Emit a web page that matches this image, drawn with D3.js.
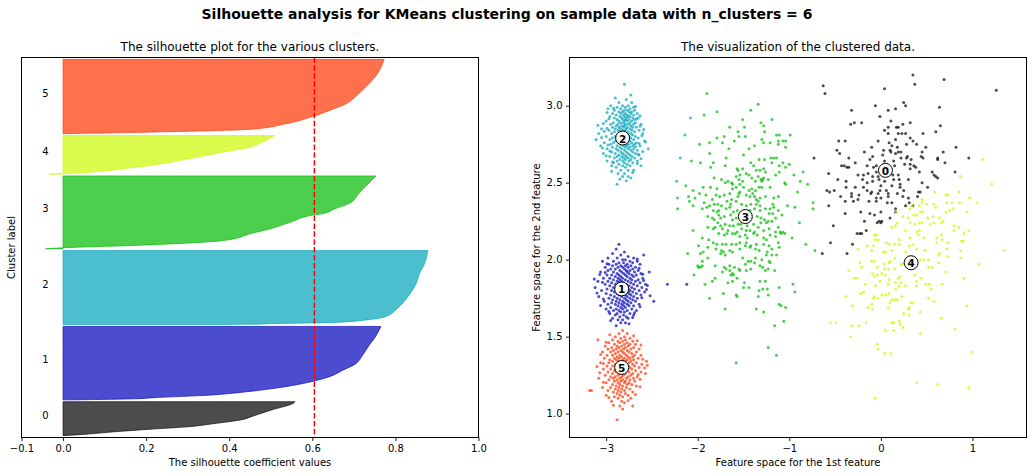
<!DOCTYPE html>
<html><head><meta charset="utf-8">
<script src="https://cdn.jsdelivr.net/npm/d3@7"></script>
<style>body{margin:0;background:#fff;} svg{display:block;}</style>
</head><body>
<script>
// ---------------- DATA ----------------
const suptitle = "Silhouette analysis for KMeans clustering on sample data with n_clusters = 6";
const leftTitle = "The silhouette plot for the various clusters.";
const rightTitle = "The visualization of the clustered data.";
const clusterIds = [0, 1, 2, 3, 4, 5];
const clusterSizes = [185, 400, 403, 397, 210, 405];
const silhouetteAvg = 0.605;
const clusterColors = ["#000000", "#0000bb", "#00a4bb", "#00bb00", "#ccf900", "#ff3300"];
const silXTicks = [-0.1, 0, 0.2, 0.4, 0.6, 0.8, 1.0];
const featXTicks = [-3, -2, -1, 0, 1];
const featYTicks = [1.0, 1.5, 2.0, 2.5, 3.0];
const featXDomain = [-3.40, 1.59];
const featYDomain = [0.845, 3.313];

// sorted silhouette values: [rank fraction within cluster, value]
const profile0 = [[0,0.0],[0.03,0.04],[0.12,0.13],[0.19,0.21],[0.26,0.30],[0.35,0.36],[0.47,0.43],[0.56,0.453],[0.75,0.50],[0.96,0.555],[1,0.558]];
const profile1 = [[0,0.02],[0.014,0.17],[0.03,0.22],[0.058,0.33],[0.115,0.45],[0.15,0.50],[0.21,0.566],[0.26,0.607],[0.33,0.648],[0.40,0.672],[0.49,0.704],[0.60,0.72],[0.737,0.736],[0.87,0.753],[1,0.765]];
const profile2 = [[0,0.30],[0.005,0.45],[0.013,0.50],[0.023,0.60],[0.03,0.655],[0.067,0.736],[0.11,0.777],[0.22,0.805],[0.377,0.83],[0.556,0.85],[0.69,0.858],[0.82,0.87],[1,0.878]];
const profile3 = [[0,-0.042],[0.014,0.0],[0.046,0.17],[0.115,0.388],[0.21,0.453],[0.28,0.502],[0.37,0.55],[0.46,0.60],[0.48,0.623],[0.55,0.655],[0.62,0.688],[0.76,0.712],[0.90,0.736],[1,0.753]];
const profile4 = [[0,-0.034],[0.01,0.0],[0.17,0.17],[0.39,0.30],[0.56,0.38],[0.71,0.453],[0.78,0.47],[1,0.51]];
const profile5 = [[0,0.0],[0.02,0.2],[0.06,0.453],[0.13,0.534],[0.23,0.60],[0.31,0.64],[0.40,0.68],[0.54,0.712],[0.67,0.736],[0.81,0.757],[1,0.773]];
const silhouetteProfiles = [profile0, profile1, profile2, profile3, profile4, profile5];

const centersX = [0.05, -2.83, -2.82, -1.48, 0.33, -2.83];
const centersY = [2.58, 1.81, 2.79, 2.28, 1.98, 1.30];

const points0 = [[0.35,3.20],[0.69,3.17],[0.37,3.14],[-0.63,3.13],[0.04,3.11],[-0.61,3.08],[1.26,3.10],[-0.06,3.00],[0.25,3.02],[0.27,3.00],[0.16,2.98],[0.64,2.99],[-0.32,2.97],[0.08,2.97],[-0.01,2.93],[0.11,2.90],[-0.33,2.88],[-0.29,2.89],[-0.21,2.89],[0.24,2.88],[0.32,2.89],[0.65,2.87],[0.08,2.86],[0.17,2.86],[0.19,2.86],[0.04,2.84],[0.08,2.82],[0.19,2.82],[0.23,2.82],[0.27,2.82],[0.60,2.83],[0.46,2.82],[0.32,2.79],[0.35,2.77],[-0.39,2.77],[-0.46,2.77],[-0.03,2.77],[0.16,2.78],[0.09,2.76],[0.39,2.75],[-0.10,2.73],[0.28,2.75],[0.49,2.73],[0.82,2.73],[0.18,2.73],[0.10,2.71],[0.11,2.70],[-0.48,2.71],[-0.45,2.69],[0.03,2.71],[0.19,2.70],[0.45,2.70],[0.68,2.70],[0.22,2.70],[0.16,2.69],[-0.73,2.66],[-0.09,2.67],[0.29,2.67],[0.44,2.67],[0.46,2.66],[-0.35,2.66],[0.62,2.66],[0.28,2.66],[0.96,2.66],[0.62,2.65],[0.33,2.65],[-0.28,2.63],[0.04,2.64],[0.14,2.64],[0.70,2.63],[0.26,2.62],[0.32,2.62],[-0.40,2.61],[-0.37,2.60],[-0.35,2.60],[-0.43,2.61],[-0.15,2.61],[-0.05,2.61],[0.36,2.61],[0.15,2.61],[0.42,2.57],[0.32,2.59],[-0.05,2.57],[-0.57,2.56],[-0.25,2.55],[-0.19,2.55],[-0.14,2.56],[-0.09,2.54],[-0.03,2.54],[0.19,2.55],[0.56,2.57],[0.81,2.57],[0.60,2.54],[0.58,2.55],[0.62,2.53],[-0.02,2.52],[-0.09,2.51],[0.04,2.51],[0.14,2.52],[0.20,2.52],[0.21,2.49],[-0.47,2.52],[-0.38,2.51],[-0.15,2.50],[-0.38,2.47],[-0.19,2.47],[0.00,2.48],[0.12,2.48],[0.21,2.47],[0.51,2.47],[-0.59,2.45],[-0.56,2.44],[-0.51,2.45],[-0.32,2.43],[-0.24,2.42],[-0.15,2.45],[-0.10,2.44],[-0.11,2.43],[-0.01,2.45],[-0.03,2.43],[0.08,2.43],[0.08,2.41],[0.24,2.41],[0.30,2.40],[0.41,2.44],[0.43,2.44],[0.40,2.41],[-0.44,2.41],[-0.32,2.41],[-0.39,2.38],[-0.25,2.39],[-0.30,2.38],[-0.13,2.38],[-0.05,2.38],[0.00,2.40],[0.07,2.37],[0.12,2.37],[0.16,2.33],[0.31,2.37],[0.35,2.35],[-0.57,2.35],[-0.22,2.31],[-0.12,2.30],[-0.07,2.29],[0.00,2.31],[-0.39,2.30],[0.10,2.27],[0.16,2.31],[-0.04,2.24],[-0.02,2.25],[0.01,2.25],[0.00,2.24],[-0.18,2.25],[-0.52,2.22],[-0.26,2.17],[-0.23,2.17],[-0.21,2.17],[-0.16,2.19],[-0.55,2.11],[-0.31,2.10],[-0.64,2.04],[-0.37,2.04],[0.10,2.58],[0.13,2.55],[-0.08,2.60],[0.22,2.66],[0.06,2.45],[-0.20,2.52],[0.18,2.43],[0.30,2.52],[-0.12,2.65],[0.02,2.68],[0.25,2.45],[-0.28,2.47],[0.38,2.60],[0.12,2.74],[-0.05,2.40],[0.27,2.35],[-0.18,2.70],[0.45,2.50]];

const points1 = [[-2.86,2.10],[-2.89,2.07],[-2.80,2.05],[-2.93,2.04],[-2.84,2.03],[-2.59,2.03],[-2.76,2.02],[-2.98,2.01],[-2.88,2.01],[-2.70,2.01],[-2.82,2.00],[-2.79,2.00],[-3.04,1.99],[-2.92,1.99],[-2.74,1.99],[-2.66,1.99],[-2.86,1.98],[-2.81,1.98],[-2.71,1.98],[-2.97,1.97],[-2.89,1.97],[-2.77,1.97],[-2.63,1.97],[-2.93,1.96],[-2.84,1.96],[-2.79,1.96],[-2.73,1.96],[-3.01,1.95],[-2.87,1.95],[-2.82,1.95],[-2.76,1.95],[-2.68,1.95],[-2.95,1.94],[-2.90,1.94],[-2.80,1.94],[-2.71,1.94],[-2.98,1.93],[-2.85,1.93],[-2.78,1.93],[-2.74,1.93],[-2.65,1.93],[-3.06,1.92],[-2.92,1.92],[-2.83,1.92],[-2.77,1.92],[-2.69,1.92],[-2.53,1.92],[-2.88,1.91],[-2.81,1.91],[-2.75,1.91],[-2.62,1.91],[-2.99,1.90],[-2.94,1.90],[-2.86,1.90],[-2.79,1.90],[-2.72,1.90],[-2.67,1.90],[-2.90,1.89],[-2.84,1.89],[-2.77,1.89],[-2.70,1.89],[-3.03,1.88],[-2.96,1.88],[-2.87,1.88],[-2.82,1.88],[-2.74,1.88],[-2.60,1.88],[-2.92,1.87],[-2.85,1.87],[-2.79,1.87],[-2.72,1.87],[-2.65,1.87],[-3.09,1.86],[-2.98,1.86],[-2.88,1.86],[-2.83,1.86],[-2.76,1.86],[-2.68,1.86],[-2.94,1.85],[-2.86,1.85],[-2.81,1.85],[-2.73,1.85],[-2.63,1.85],[-3.01,1.84],[-2.90,1.84],[-2.84,1.84],[-2.78,1.84],[-2.70,1.84],[-2.57,1.84],[-2.96,1.83],[-2.87,1.83],[-2.80,1.83],[-2.75,1.83],[-2.66,1.83],[-3.12,1.82],[-2.92,1.82],[-2.85,1.82],[-2.79,1.82],[-2.72,1.82],[-2.61,1.82],[-2.99,1.81],[-2.89,1.81],[-2.82,1.81],[-2.76,1.81],[-2.69,1.81],[-3.05,1.80],[-2.94,1.80],[-2.86,1.80],[-2.80,1.80],[-2.74,1.80],[-2.64,1.80],[-2.91,1.79],[-2.84,1.79],[-2.77,1.79],[-2.71,1.79],[-2.58,1.79],[-3.00,1.78],[-2.88,1.78],[-2.81,1.78],[-2.75,1.78],[-2.67,1.78],[-2.95,1.77],[-2.86,1.77],[-2.79,1.77],[-2.73,1.77],[-2.62,1.77],[-3.08,1.76],[-2.91,1.76],[-2.83,1.76],[-2.77,1.76],[-2.70,1.76],[-2.97,1.75],[-2.88,1.75],[-2.80,1.75],[-2.74,1.75],[-2.66,1.75],[-2.93,1.74],[-2.85,1.74],[-2.78,1.74],[-2.71,1.74],[-3.02,1.73],[-2.89,1.73],[-2.82,1.73],[-2.76,1.73],[-2.68,1.73],[-2.48,1.73],[-2.94,1.72],[-2.86,1.72],[-2.80,1.72],[-2.73,1.72],[-2.98,1.71],[-2.90,1.71],[-2.83,1.71],[-2.77,1.71],[-2.64,1.71],[-2.87,1.70],[-2.81,1.70],[-2.75,1.70],[-2.70,1.70],[-2.95,1.69],[-2.84,1.69],[-2.79,1.69],[-3.00,1.68],[-2.89,1.68],[-2.82,1.68],[-2.72,1.68],[-2.92,1.67],[-2.86,1.67],[-2.77,1.67],[-2.67,1.67],[-2.84,1.66],[-2.80,1.66],[-2.96,1.65],[-2.88,1.65],[-2.74,1.65],[-2.90,1.64],[-2.81,1.64],[-2.70,1.64],[-2.85,1.63],[-2.78,1.63],[-2.93,1.62],[-2.76,1.62],[-2.87,1.61],[-2.82,1.61],[-2.84,1.59],[-2.79,1.59],[-2.89,1.57],[-2.33,1.84],[-2.12,1.84],[-3.07,1.903],[-3.04,1.853],[-2.59,1.864],[-2.56,1.806],[-3.10,1.784],[-3.03,1.745],[-2.61,1.753],[-2.63,1.694],[-3.01,1.917],[-2.64,1.944],[-2.60,1.906],[-2.55,1.833],[-3.06,1.703],[-2.97,1.663],[-2.69,1.655],[-2.99,1.974],[-2.66,2.004],[-2.71,1.624],[-2.95,1.605],[-2.75,1.583],[-3.13,1.874],[-2.52,1.765]];

const points2 = [[-2.80,3.14],[-2.73,3.07],[-2.90,3.05],[-2.78,3.04],[-2.86,3.02],[-2.72,3.02],[-2.95,3.00],[-2.82,3.00],[-2.76,3.00],[-2.88,2.99],[-2.79,2.99],[-2.70,2.99],[-2.84,2.98],[-2.74,2.98],[-2.98,2.98],[-2.91,2.97],[-2.80,2.97],[-2.77,2.97],[-2.69,2.97],[-2.86,2.96],[-2.82,2.96],[-2.75,2.96],[-2.72,2.96],[-2.93,2.95],[-2.84,2.95],[-2.79,2.95],[-2.73,2.95],[-2.66,2.95],[-2.89,2.94],[-2.81,2.94],[-2.77,2.94],[-2.70,2.94],[-2.96,2.93],[-2.85,2.93],[-2.80,2.93],[-2.76,2.93],[-2.74,2.93],[-2.91,2.92],[-2.83,2.92],[-2.78,2.92],[-2.71,2.92],[-2.65,2.92],[-2.88,2.91],[-2.82,2.91],[-2.79,2.91],[-2.75,2.91],[-2.69,2.91],[-3.00,2.90],[-2.86,2.90],[-2.80,2.90],[-2.77,2.90],[-2.72,2.90],[-2.92,2.89],[-2.84,2.89],[-2.81,2.89],[-2.74,2.89],[-2.68,2.89],[-2.95,2.88],[-2.87,2.88],[-2.79,2.88],[-2.76,2.88],[-2.70,2.88],[-2.62,2.88],[-2.89,2.87],[-2.83,2.87],[-2.80,2.87],[-2.73,2.87],[-2.93,2.86],[-2.86,2.86],[-2.81,2.86],[-2.77,2.86],[-2.71,2.86],[-2.67,2.86],[-3.05,2.85],[-2.90,2.85],[-2.84,2.85],[-2.78,2.85],[-2.74,2.85],[-2.97,2.84],[-2.87,2.84],[-2.82,2.84],[-2.79,2.84],[-2.72,2.84],[-2.64,2.84],[-2.91,2.83],[-2.85,2.83],[-2.80,2.83],[-2.76,2.83],[-2.69,2.83],[-3.08,2.82],[-2.94,2.82],[-2.83,2.82],[-2.78,2.82],[-2.73,2.82],[-2.60,2.82],[-2.88,2.81],[-2.84,2.81],[-2.77,2.81],[-2.71,2.81],[-3.00,2.80],[-2.90,2.80],[-2.86,2.80],[-2.75,2.80],[-2.68,2.80],[-2.93,2.79],[-2.79,2.79],[-2.73,2.79],[-2.65,2.79],[-3.11,2.78],[-2.96,2.78],[-2.87,2.78],[-2.82,2.78],[-2.76,2.78],[-2.70,2.78],[-2.90,2.77],[-2.84,2.77],[-2.79,2.77],[-2.74,2.77],[-2.58,2.77],[-3.02,2.76],[-2.92,2.76],[-2.86,2.76],[-2.81,2.76],[-2.72,2.76],[-2.67,2.76],[-2.95,2.75],[-2.83,2.75],[-2.78,2.75],[-2.75,2.75],[-2.69,2.75],[-3.06,2.74],[-2.88,2.74],[-2.81,2.74],[-2.77,2.74],[-2.71,2.74],[-2.63,2.74],[-2.93,2.73],[-2.85,2.73],[-2.79,2.73],[-2.74,2.73],[-2.99,2.72],[-2.89,2.72],[-2.83,2.72],[-2.76,2.72],[-2.70,2.72],[-2.54,2.72],[-2.87,2.71],[-2.80,2.71],[-2.73,2.71],[-2.66,2.71],[-2.94,2.70],[-2.84,2.70],[-2.78,2.70],[-2.71,2.70],[-3.03,2.69],[-2.90,2.69],[-2.82,2.69],[-2.76,2.69],[-2.68,2.69],[-2.86,2.68],[-2.80,2.68],[-2.74,2.68],[-2.64,2.68],[-2.96,2.67],[-2.88,2.67],[-2.83,2.67],[-2.78,2.67],[-2.72,2.67],[-2.91,2.66],[-2.81,2.66],[-2.76,2.66],[-2.69,2.66],[-2.85,2.65],[-2.79,2.65],[-2.73,2.65],[-2.99,2.64],[-2.88,2.64],[-2.82,2.64],[-2.75,2.64],[-2.66,2.64],[-2.92,2.63],[-2.80,2.63],[-2.71,2.63],[-2.86,2.62],[-2.77,2.62],[-2.94,2.61],[-2.82,2.61],[-2.74,2.61],[-2.62,2.61],[-2.89,2.60],[-2.79,2.60],[-2.84,2.58],[-2.76,2.58],[-2.70,2.58],[-2.87,2.56],[-2.80,2.56],[-2.82,2.54],[-2.76,2.54],[-2.73,2.53],[-2.88,2.49],[-2.08,2.92],[-2.14,2.81],[-2.19,2.66],[-2.23,2.51],[-2.22,2.40],[-3.03,2.884],[-2.99,2.853],[-2.63,2.866],[-2.61,2.804],[-3.05,2.793],[-2.98,2.745],[-2.64,2.754],[-2.60,2.703],[-3.00,2.675],[-2.66,2.624],[-2.97,2.916],[-2.67,2.913],[-2.63,2.935],[-3.02,2.834],[-2.59,2.846],[-2.96,2.706],[-2.68,2.734],[-2.92,2.983],[-2.68,2.994],[-3.09,2.873],[-2.57,2.764],[-2.94,2.574],[-2.71,2.566],[-2.99,2.955],[-2.65,2.684],[-3.04,2.725],[-2.62,2.656],[-2.93,2.634],[-2.85,2.524],[-2.78,2.513]];

const points3 = [[-1.90,3.08],[-1.34,3.01],[-1.42,2.97],[-1.79,2.96],[-1.93,2.94],[-1.19,2.91],[-1.51,2.91],[-1.31,2.89],[-1.28,2.87],[-1.49,2.86],[-1.65,2.86],[-1.27,2.83],[-1.56,2.83],[-1.14,2.81],[-1.11,2.81],[-0.99,2.81],[-1.79,2.79],[-1.71,2.80],[-1.55,2.80],[-1.48,2.80],[-1.60,2.77],[-1.30,2.78],[-1.21,2.76],[-1.12,2.77],[-1.07,2.77],[-1.04,2.77],[-1.12,2.75],[-1.98,2.75],[-1.87,2.76],[-1.73,2.76],[-1.66,2.72],[-1.44,2.72],[-1.38,2.74],[-1.28,2.76],[-1.04,2.73],[-1.87,2.69],[-1.50,2.68],[-1.69,2.66],[-2.07,2.64],[-1.97,2.63],[-1.83,2.63],[-1.70,2.61],[-1.42,2.63],[-1.33,2.65],[-1.27,2.65],[-1.20,2.66],[-1.19,2.63],[-1.17,2.66],[-1.14,2.66],[-1.07,2.63],[-1.11,2.61],[-1.00,2.62],[-1.04,2.60],[-1.86,2.60],[-1.57,2.59],[-1.56,2.58],[-1.51,2.59],[-1.39,2.61],[-1.36,2.58],[-1.32,2.58],[-1.28,2.59],[-1.26,2.57],[-1.11,2.57],[-0.85,2.57],[-0.95,2.55],[-1.82,2.53],[-1.74,2.52],[-1.67,2.51],[-1.63,2.50],[-1.62,2.49],[-1.58,2.54],[-1.54,2.55],[-1.47,2.56],[-1.44,2.55],[-1.41,2.53],[-1.34,2.54],[-1.31,2.52],[-1.23,2.52],[-1.28,2.53],[-1.15,2.55],[-1.05,2.50],[-0.88,2.51],[-0.80,2.49],[-2.13,2.48],[-1.70,2.50],[-1.55,2.52],[-1.51,2.51],[-1.37,2.51],[-1.30,2.51],[-1.29,2.52],[-2.05,2.45],[-1.94,2.47],[-1.86,2.47],[-1.79,2.46],[-1.62,2.46],[-1.58,2.47],[-1.54,2.49],[-1.50,2.47],[-1.44,2.45],[-1.41,2.46],[-1.37,2.45],[-1.33,2.47],[-1.30,2.47],[-1.21,2.47],[-1.04,2.49],[-1.98,2.43],[-1.91,2.42],[-1.80,2.42],[-1.76,2.41],[-1.71,2.42],[-1.65,2.43],[-1.55,2.43],[-1.54,2.44],[-1.47,2.42],[-1.43,2.41],[-1.40,2.43],[-1.38,2.41],[-1.32,2.40],[-1.26,2.41],[-1.17,2.40],[-1.12,2.41],[-0.91,2.44],[-2.10,2.41],[-2.03,2.40],[-2.09,2.38],[-1.84,2.39],[-1.68,2.38],[-1.63,2.39],[-1.56,2.41],[-1.36,2.39],[-0.74,2.37],[-0.74,2.33],[-2.22,2.33],[-2.05,2.35],[-1.93,2.37],[-1.87,2.35],[-1.82,2.36],[-1.78,2.36],[-1.74,2.35],[-1.64,2.36],[-1.58,2.38],[-1.52,2.36],[-1.47,2.35],[-1.42,2.36],[-1.36,2.36],[-1.34,2.38],[-1.32,2.35],[-1.18,2.36],[-1.17,2.34],[-1.02,2.35],[-0.94,2.34],[-1.95,2.33],[-1.90,2.34],[-1.83,2.32],[-1.79,2.31],[-1.77,2.32],[-1.69,2.33],[-1.65,2.34],[-1.61,2.31],[-1.57,2.32],[-1.43,2.32],[-1.38,2.33],[-1.32,2.32],[-1.26,2.33],[-1.21,2.33],[-1.18,2.30],[-1.12,2.32],[-1.08,2.29],[-0.89,2.24],[-0.72,2.06],[-2.05,2.19],[-1.89,2.28],[-1.84,2.27],[-1.82,2.26],[-1.77,2.29],[-1.75,2.27],[-1.71,2.28],[-1.64,2.29],[-1.62,2.26],[-1.58,2.27],[-1.42,2.27],[-1.35,2.28],[-1.31,2.27],[-1.27,2.26],[-1.22,2.30],[-1.23,2.25],[-1.15,2.27],[-1.12,2.21],[-1.07,2.18],[-1.78,2.24],[-1.75,2.22],[-1.70,2.23],[-1.65,2.22],[-1.61,2.22],[-1.56,2.23],[-1.53,2.23],[-1.46,2.22],[-1.39,2.23],[-1.34,2.21],[-1.31,2.24],[-1.25,2.24],[-1.19,2.25],[-1.89,2.21],[-1.83,2.20],[-1.81,2.21],[-1.73,2.20],[-1.67,2.19],[-1.57,2.18],[-1.52,2.20],[-1.47,2.19],[-1.43,2.19],[-1.38,2.18],[-1.28,2.19],[-1.22,2.20],[-1.15,2.18],[-1.10,2.18],[-1.95,2.14],[-1.88,2.13],[-1.77,2.17],[-1.71,2.16],[-1.68,2.17],[-1.62,2.17],[-1.59,2.17],[-1.54,2.15],[-1.48,2.16],[-1.46,2.14],[-1.39,2.17],[-1.35,2.16],[-1.28,2.14],[-1.25,2.13],[-1.21,2.16],[-1.15,2.15],[-1.09,2.17],[-1.05,2.17],[-0.97,2.14],[-0.82,2.10],[-1.83,2.11],[-1.79,2.10],[-1.73,2.10],[-1.69,2.10],[-1.63,2.10],[-1.58,2.10],[-1.54,2.11],[-1.47,2.11],[-1.42,2.09],[-1.36,2.10],[-1.28,2.10],[-1.22,2.09],[-1.12,2.11],[-1.11,2.08],[-1.99,2.09],[-1.89,2.08],[-2.11,2.04],[-1.94,2.05],[-1.97,2.04],[-1.80,2.07],[-1.74,2.06],[-1.72,2.05],[-1.70,2.03],[-1.65,2.06],[-1.62,2.05],[-1.54,2.07],[-1.48,2.09],[-1.43,2.08],[-1.37,2.07],[-1.33,2.06],[-1.24,2.05],[-1.19,2.07],[-1.19,2.03],[-1.14,2.03],[-1.25,2.03],[-1.89,2.01],[-1.95,1.99],[-1.99,1.95],[-1.97,1.95],[-1.75,2.04],[-1.37,2.01],[-1.51,2.01],[-1.45,1.99],[-1.38,1.98],[-1.30,2.00],[-1.22,1.99],[-1.81,1.96],[-1.71,1.95],[-1.65,1.96],[-1.60,1.95],[-1.55,1.94],[-1.48,1.97],[-1.42,1.99],[-2.04,1.90],[-2.00,1.96],[-1.95,1.96],[-1.73,1.92],[-1.69,1.94],[-1.65,1.93],[-1.62,1.91],[-1.61,1.90],[-1.54,1.93],[-1.47,1.93],[-1.42,1.94],[-1.32,1.96],[-1.29,1.95],[-1.26,1.93],[-1.23,1.94],[-1.21,1.98],[-1.16,1.93],[-1.92,1.84],[-1.84,1.86],[-1.81,1.88],[-1.64,1.90],[-1.57,1.88],[-1.67,1.85],[-1.62,1.86],[-1.49,1.85],[-1.50,1.82],[-1.44,1.82],[-1.32,1.86],[-1.26,1.86],[-1.24,1.81],[-1.33,1.80],[-1.29,1.81],[-1.11,1.82],[-0.96,1.84],[-0.94,1.79],[-1.72,1.78],[-1.58,1.77],[-1.57,1.76],[-1.34,1.76],[-1.23,1.77],[-1.87,1.75],[-1.70,1.68],[-1.36,1.68],[-1.28,1.66],[-1.11,1.71],[-1.09,1.70],[-1.04,1.69],[-1.06,1.60],[-1.16,1.57],[-1.23,1.43],[-1.14,1.38],[-1.58,1.33]];

const points4 = [[1.11,2.65],[0.87,2.54],[1.21,2.49],[0.59,2.44],[0.71,2.42],[0.73,2.42],[0.85,2.44],[0.45,2.39],[0.45,2.37],[0.58,2.36],[0.72,2.37],[0.78,2.37],[0.86,2.37],[0.97,2.40],[1.05,2.37],[0.34,2.35],[0.42,2.35],[0.50,2.36],[0.60,2.34],[0.71,2.31],[0.75,2.32],[0.79,2.33],[0.94,2.31],[0.17,2.31],[0.24,2.28],[0.32,2.33],[0.36,2.29],[0.39,2.29],[0.43,2.31],[0.46,2.31],[0.30,2.27],[0.51,2.27],[0.57,2.28],[0.64,2.27],[0.18,2.24],[0.32,2.24],[0.37,2.23],[0.42,2.24],[0.45,2.24],[0.54,2.23],[0.58,2.24],[0.66,2.24],[0.68,2.25],[0.80,2.22],[0.85,2.21],[0.16,2.22],[0.12,2.21],[0.27,2.19],[0.39,2.18],[0.42,2.19],[0.80,2.19],[0.91,2.17],[0.96,2.19],[-0.07,2.16],[-0.05,2.16],[-0.03,2.13],[-0.06,2.13],[0.20,2.13],[0.32,2.14],[0.41,2.16],[0.47,2.14],[0.61,2.14],[0.66,2.16],[0.67,2.13],[0.73,2.11],[0.88,2.12],[0.90,2.12],[-0.08,2.09],[-0.15,2.09],[-0.10,2.06],[-0.25,2.07],[0.06,2.11],[0.09,2.10],[0.15,2.10],[0.20,2.10],[0.31,2.09],[0.35,2.10],[0.61,2.11],[0.03,2.05],[0.05,2.05],[0.12,2.06],[0.27,2.05],[0.39,2.07],[0.48,2.06],[0.72,2.07],[0.87,2.06],[1.35,2.06],[0.15,2.01],[0.31,2.02],[0.37,2.01],[0.43,2.00],[0.47,2.00],[0.52,2.00],[0.64,2.04],[0.63,2.03],[0.73,2.02],[0.87,2.01],[-0.23,1.98],[-0.10,1.99],[-0.07,1.99],[0.04,1.97],[0.09,1.98],[0.10,1.99],[0.22,1.97],[0.23,1.97],[0.38,1.99],[0.52,1.95],[0.56,1.95],[0.63,1.98],[1.07,1.97],[-0.21,1.95],[-0.35,1.93],[-0.04,1.95],[0.04,1.94],[0.08,1.94],[0.15,1.94],[-0.09,1.91],[-0.07,1.89],[-0.04,1.90],[0.01,1.91],[0.05,1.90],[0.21,1.89],[0.19,1.88],[0.37,1.90],[0.44,1.88],[0.71,1.92],[-0.29,1.88],[-0.26,1.88],[0.09,1.87],[-0.17,1.84],[-0.01,1.86],[-0.06,1.83],[0.08,1.84],[0.16,1.85],[0.22,1.85],[0.39,1.86],[0.49,1.84],[0.53,1.84],[0.55,1.81],[0.67,1.84],[0.91,1.88],[-0.22,1.78],[-0.19,1.79],[0.16,1.81],[0.20,1.83],[0.27,1.83],[0.39,1.83],[-0.38,1.76],[-0.07,1.76],[-0.08,1.75],[-0.03,1.75],[0.01,1.77],[0.05,1.77],[0.09,1.78],[0.12,1.74],[0.15,1.74],[0.18,1.74],[0.23,1.76],[0.52,1.75],[0.58,1.73],[-0.31,1.70],[-0.14,1.69],[-0.09,1.68],[-0.10,1.71],[0.08,1.69],[0.10,1.72],[0.31,1.69],[0.30,1.68],[0.33,1.72],[0.35,1.72],[0.43,1.66],[0.25,1.65],[0.31,1.64],[0.94,1.70],[-0.55,1.59],[-0.49,1.59],[-0.32,1.57],[-0.24,1.57],[-0.16,1.59],[0.12,1.59],[0.14,1.59],[0.20,1.60],[0.21,1.58],[0.24,1.56],[0.66,1.62],[0.81,1.55],[-0.33,1.50],[0.05,1.54],[0.14,1.54],[0.43,1.52],[-0.04,1.45],[-0.03,1.42],[0.04,1.39],[0.11,1.39],[0.99,1.40],[0.39,1.20],[0.62,1.19],[0.96,1.17],[-0.06,1.10]];

const points5 = [[-2.82,1.54],[-2.86,1.52],[-2.77,1.52],[-2.90,1.50],[-2.80,1.50],[-2.84,1.49],[-2.74,1.49],[-3.09,1.48],[-2.93,1.48],[-2.79,1.48],[-2.87,1.47],[-2.82,1.47],[-2.71,1.47],[-2.97,1.46],[-2.85,1.46],[-2.77,1.46],[-2.91,1.45],[-2.80,1.45],[-2.74,1.45],[-2.68,1.45],[-3.01,1.44],[-2.88,1.44],[-2.83,1.44],[-2.76,1.44],[-2.94,1.43],[-2.86,1.43],[-2.79,1.43],[-2.70,1.43],[-2.98,1.42],[-2.89,1.42],[-2.81,1.42],[-2.73,1.42],[-2.64,1.42],[-2.92,1.41],[-2.84,1.41],[-2.77,1.41],[-3.04,1.40],[-2.95,1.40],[-2.87,1.40],[-2.82,1.40],[-2.75,1.40],[-2.67,1.40],[-2.90,1.39],[-2.80,1.39],[-2.72,1.39],[-2.99,1.38],[-2.93,1.38],[-2.85,1.38],[-2.78,1.38],[-2.69,1.38],[-2.62,1.38],[-2.88,1.37],[-2.83,1.37],[-2.76,1.37],[-2.71,1.37],[-3.02,1.36],[-2.91,1.36],[-2.86,1.36],[-2.80,1.36],[-2.74,1.36],[-2.65,1.36],[-2.96,1.35],[-2.89,1.35],[-2.82,1.35],[-2.77,1.35],[-2.70,1.35],[-2.93,1.34],[-2.87,1.34],[-2.79,1.34],[-2.73,1.34],[-2.56,1.34],[-3.06,1.33],[-2.97,1.33],[-2.84,1.33],[-2.81,1.33],[-2.75,1.33],[-2.67,1.33],[-2.90,1.32],[-2.86,1.32],[-2.78,1.32],[-2.71,1.32],[-2.61,1.32],[-2.99,1.31],[-2.93,1.31],[-2.83,1.31],[-2.76,1.31],[-2.69,1.31],[-2.88,1.30],[-2.80,1.30],[-2.74,1.30],[-2.64,1.30],[-3.03,1.29],[-2.95,1.29],[-2.85,1.29],[-2.79,1.29],[-2.72,1.29],[-2.91,1.28],[-2.86,1.28],[-2.77,1.28],[-2.68,1.28],[-2.98,1.27],[-2.89,1.27],[-2.82,1.27],[-2.75,1.27],[-2.62,1.27],[-2.93,1.26],[-2.84,1.26],[-2.79,1.26],[-2.71,1.26],[-2.57,1.26],[-3.01,1.25],[-2.87,1.25],[-2.81,1.25],[-2.73,1.25],[-2.95,1.24],[-2.90,1.24],[-2.83,1.24],[-2.76,1.24],[-2.66,1.24],[-3.08,1.23],[-2.92,1.23],[-2.85,1.23],[-2.78,1.23],[-2.70,1.23],[-2.97,1.22],[-2.88,1.22],[-2.82,1.22],[-2.74,1.22],[-2.91,1.21],[-2.84,1.21],[-2.79,1.21],[-2.69,1.21],[-3.00,1.20],[-2.87,1.20],[-2.80,1.20],[-2.75,1.20],[-2.93,1.19],[-2.85,1.19],[-2.77,1.19],[-2.72,1.19],[-2.89,1.18],[-2.82,1.18],[-2.67,1.18],[-3.04,1.17],[-2.95,1.17],[-2.86,1.17],[-2.78,1.17],[-2.90,1.16],[-2.83,1.16],[-2.74,1.16],[-3.18,1.15],[-3.16,1.15],[-2.98,1.15],[-2.87,1.15],[-2.80,1.15],[-2.92,1.14],[-2.84,1.14],[-2.71,1.14],[-2.88,1.13],[-2.79,1.13],[-3.00,1.12],[-2.85,1.12],[-2.76,1.12],[-2.91,1.11],[-2.82,1.11],[-2.87,1.10],[-2.73,1.10],[-2.94,1.08],[-2.83,1.08],[-2.80,1.07],[-2.85,1.05],[-2.71,1.05],[-2.82,1.03],[-2.88,0.96],[-3.06,1.384],[-3.03,1.325],[-2.60,1.354],[-2.58,1.296],[-3.07,1.265],[-3.03,1.204],[-2.63,1.223],[-2.62,1.445],[-3.00,1.463],[-2.65,1.254],[-2.66,1.474],[-2.96,1.513],[-2.70,1.506],[-2.63,1.175],[-2.97,1.104],[-2.76,1.085],[-3.10,1.306],[-2.55,1.314],[-2.68,1.124],[-2.92,1.054]];

const clusterPoints = [points0, points1, points2, points3, points4, points5];

// ---------------- DRAWING ----------------
const FONT = "'DejaVu Sans', sans-serif";
const W = 1032, H = 476;
const svg = d3.select("body").append("svg")
  .attr("width", W).attr("height", H)
  .style("font-family", FONT);

svg.append("text")
  .attr("x", 507).attr("y", 19)
  .attr("text-anchor", "middle")
  .attr("font-size", 14).attr("font-weight", "bold")
  .attr("fill", "#000")
  .text(suptitle);

function styleAxis(g) {
  g.attr("font-family", FONT).attr("font-size", 10);
  g.select(".domain").remove();
  g.selectAll(".tick line").attr("stroke", "#000").attr("stroke-width", 0.9);
  g.selectAll(".tick text").attr("fill", "#000");
}

// ---- Left panel: silhouette plot ----
const LP = {l: 21.5, r: 478.5, t: 57.5, b: 437.5};
const xSil = d3.scaleLinear().domain([-0.1, 1.0]).range([LP.l, LP.r]);
const yMax = d3.sum(clusterSizes) + (clusterSizes.length + 1) * 10;
const ySil = d3.scaleLinear().domain([0, yMax]).range([LP.b, LP.t]);

const gL = svg.append("g");
let yLower = 10;
clusterIds.forEach((c, i) => {
  const size = clusterSizes[i];
  const base = yLower;
  const area = d3.area()
    .y(d => ySil(base + d[0] * size))
    .x0(xSil(0))
    .x1(d => xSil(d[1]))
    .curve(d3.curveMonotoneY);
  gL.append("path")
    .datum(silhouetteProfiles[i])
    .attr("d", area)
    .attr("fill", clusterColors[i]).attr("fill-opacity", 0.7)
    .attr("stroke", clusterColors[i]).attr("stroke-opacity", 0.7)
    .attr("stroke-width", 0.9);
  gL.append("text")
    .attr("x", xSil(-0.05)).attr("y", ySil(base + 0.5 * size))
    .attr("font-size", 10).attr("fill", "#000")
    .text(String(c));
  yLower += size + 10;
});

gL.append("line")
  .attr("x1", xSil(silhouetteAvg)).attr("x2", xSil(silhouetteAvg))
  .attr("y1", LP.t).attr("y2", LP.b)
  .attr("stroke", "red").attr("stroke-width", 1.5)
  .attr("stroke-dasharray", "5.5,2.4");

const axL = svg.append("g").attr("transform", `translate(0,${LP.b})`)
  .call(d3.axisBottom(xSil).tickValues(silXTicks).tickFormat(d3.format(".1f")).tickSize(3.5).tickPadding(3.5));
styleAxis(axL);

svg.append("rect").attr("x", LP.l).attr("y", LP.t)
  .attr("width", LP.r - LP.l).attr("height", LP.b - LP.t)
  .attr("fill", "none").attr("stroke", "#000").attr("stroke-width", 1);

svg.append("text").attr("x", (LP.l + LP.r) / 2).attr("y", 51)
  .attr("text-anchor", "middle").attr("font-size", 12).attr("fill", "#000")
  .text(leftTitle);
svg.append("text").attr("x", (LP.l + LP.r) / 2).attr("y", 466)
  .attr("text-anchor", "middle").attr("font-size", 10).attr("fill", "#000")
  .text("The silhouette coefficient values");
svg.append("text")
  .attr("transform", `translate(15,${(LP.t + LP.b) / 2}) rotate(-90)`)
  .attr("text-anchor", "middle").attr("font-size", 10).attr("fill", "#000")
  .text("Cluster label");

// ---- Right panel: scatter ----
const RP = {l: 569.5, r: 1026.5, t: 57.5, b: 437.5};
const xF = d3.scaleLinear().domain(featXDomain).range([RP.l, RP.r]);
const yF = d3.scaleLinear().domain(featYDomain).range([RP.b, RP.t]);

const gR = svg.append("g");
clusterIds.forEach((c, i) => {
  gR.append("g").selectAll("circle")
    .data(clusterPoints[i]).join("circle")
    .attr("cx", d => xF(d[0])).attr("cy", d => yF(d[1]))
    .attr("r", 1.5)
    .attr("fill", clusterColors[i]).attr("fill-opacity", 0.7);
});

gR.selectAll("circle.center").data(clusterIds).join("circle")
  .attr("class", "center")
  .attr("cx", i => xF(centersX[i])).attr("cy", i => yF(centersY[i]))
  .attr("r", 7).attr("fill", "#fff").attr("stroke", "#000").attr("stroke-width", 1);
gR.selectAll("text.clabel").data(clusterIds).join("text")
  .attr("class", "clabel")
  .attr("x", i => xF(centersX[i])).attr("y", i => yF(centersY[i]) + 0.5)
  .attr("text-anchor", "middle").attr("dominant-baseline", "central")
  .attr("font-size", 10.5).attr("font-weight", "bold").attr("fill", "#000")
  .text(i => String(i));

const axRx = svg.append("g").attr("transform", `translate(0,${RP.b})`)
  .call(d3.axisBottom(xF).tickValues(featXTicks).tickFormat(d3.format("d")).tickSize(3.5).tickPadding(3.5));
styleAxis(axRx);
const axRy = svg.append("g").attr("transform", `translate(${RP.l},0)`)
  .call(d3.axisLeft(yF).tickValues(featYTicks).tickFormat(d3.format(".1f")).tickSize(3.5).tickPadding(3.5));
styleAxis(axRy);

svg.append("rect").attr("x", RP.l).attr("y", RP.t)
  .attr("width", RP.r - RP.l).attr("height", RP.b - RP.t)
  .attr("fill", "none").attr("stroke", "#000").attr("stroke-width", 1);

svg.append("text").attr("x", (RP.l + RP.r) / 2).attr("y", 51)
  .attr("text-anchor", "middle").attr("font-size", 12).attr("fill", "#000")
  .text(rightTitle);
svg.append("text").attr("x", (RP.l + RP.r) / 2).attr("y", 466)
  .attr("text-anchor", "middle").attr("font-size", 10).attr("fill", "#000")
  .text("Feature space for the 1st feature");
svg.append("text")
  .attr("transform", `translate(540,${(RP.t + RP.b) / 2}) rotate(-90)`)
  .attr("text-anchor", "middle").attr("font-size", 10).attr("fill", "#000")
  .text("Feature space for the 2nd feature");
</script>
</body></html>
